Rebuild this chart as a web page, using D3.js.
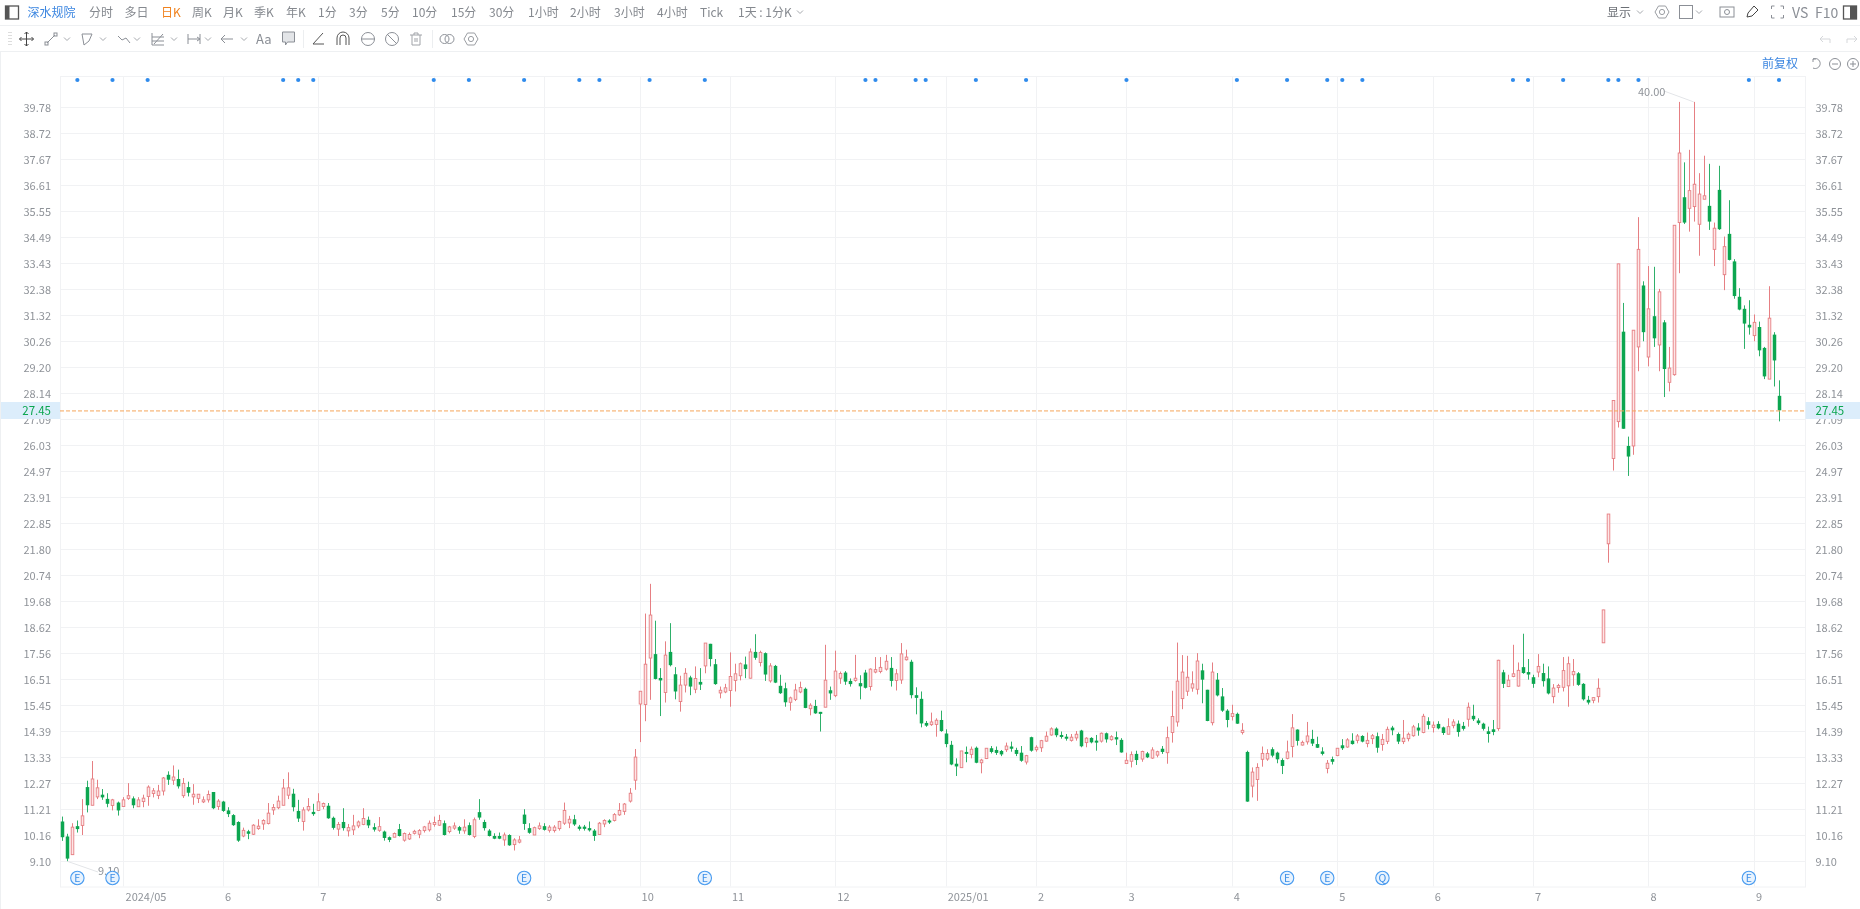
<!DOCTYPE html>
<html><head><meta charset="utf-8">
<style>html,body{margin:0;padding:0;background:#fff;overflow:hidden}text{font-family:"Noto Sans CJK SC","Noto Sans",sans-serif}svg{filter:blur(.3px)}</style>
<script src="https://cdn.jsdelivr.net/npm/d3@7"></script>
</head><body><svg id="c" width="1860" height="909"></svg>
<script>
const opens=[10.72,10.11,9.37,10.53,10.56,12.12,11.38,11.72,11.81,11.64,
11.37,11.49,11.33,11.66,11.66,11.32,11.53,11.74,11.86,11.78,
11.96,12.62,12.40,12.45,11.77,12.12,11.72,11.66,11.52,11.60,
11.92,11.33,11.53,11.17,10.98,10.70,10.13,10.32,10.20,10.43,
10.62,10.64,11.19,11.28,11.38,11.79,11.85,11.15,10.72,11.19,
11.11,11.17,11.33,11.36,10.87,10.41,10.70,10.34,10.38,10.54,
10.60,10.79,10.49,10.36,10.31,10.08,10.08,10.41,9.96,10.01,
10.24,10.20,10.35,10.38,10.60,10.57,10.65,10.31,10.45,10.49,
10.34,10.57,10.11,11.10,10.70,10.35,10.13,10.13,9.97,10.17,
9.78,9.88,11.00,10.45,10.17,10.43,10.53,10.36,10.35,10.43,
10.65,10.66,10.81,10.51,10.51,10.45,10.35,10.19,10.62,10.76,
10.76,10.99,11.13,11.55,12.40,15.50,15.48,17.37,17.53,16.56,
15.97,17.62,16.71,15.60,16.27,16.58,16.10,16.40,17.05,17.95,
17.12,15.95,15.99,16.05,16.46,16.65,17.11,16.55,17.62,17.19,
17.57,16.44,17.05,16.24,16.14,15.57,15.69,15.99,16.12,15.31,
15.42,15.18,15.37,16.06,15.84,16.55,16.78,16.44,16.46,16.35,
16.78,16.21,16.80,16.82,16.92,16.97,16.46,16.48,17.30,17.22,
15.86,15.71,14.73,14.66,14.67,14.85,14.30,13.84,13.07,12.91,
13.55,13.45,13.72,13.11,13.28,13.70,13.63,13.59,13.64,13.77,
13.63,13.52,13.14,14.15,13.64,13.72,13.99,14.24,14.50,14.24,
14.17,14.02,14.12,14.42,13.93,14.12,14.01,13.99,14.31,14.05,
14.15,14.04,13.08,13.17,13.47,13.26,13.49,13.30,13.42,13.68,
13.52,14.34,14.77,15.72,16.02,16.15,16.10,16.87,16.08,14.74,
16.49,15.81,15.23,14.99,15.10,14.34,13.55,12.16,12.43,13.25,
13.26,13.66,13.52,13.22,13.29,13.77,14.46,13.83,13.96,14.08,
13.87,13.57,12.88,13.26,13.40,13.82,13.75,14.01,14.02,14.20,
13.89,14.09,14.19,13.85,13.98,14.54,14.28,13.97,14.09,14.21,
14.54,14.34,14.80,14.55,14.69,14.55,14.27,14.62,14.70,14.61,
14.88,15.02,14.83,14.70,14.39,14.47,14.50,16.79,16.21,16.62,
16.23,17.00,16.80,16.59,16.80,16.76,16.54,15.80,16.19,16.18,
16.24,16.69,16.75,16.32,15.67,15.65,15.80,17.99,22.02,25.49,
26.99,30.65,26.00,26.00,30.03,32.53,29.62,31.28,30.11,31.03,
28.59,28.90,35.09,36.12,35.67,35.74,35.02,36.04,35.77,34.00,
36.42,32.97,34.63,33.51,32.07,31.58,30.93,30.49,30.84,29.99,
28.72,30.53,28.04];
const highs=[10.92,10.22,10.65,10.76,11.63,12.38,13.18,12.42,12.04,11.87,
11.64,11.53,11.71,12.28,11.74,11.71,11.81,12.19,12.08,12.21,
12.53,12.76,13.00,12.83,12.49,12.34,12.24,11.83,11.74,11.98,
11.92,11.63,11.56,11.30,11.02,10.73,10.47,10.38,10.61,10.81,
10.81,11.47,11.43,11.77,12.45,12.72,12.05,11.60,11.30,11.67,
11.44,11.87,11.49,11.47,10.92,10.70,11.26,10.62,10.99,10.76,
11.26,10.92,10.65,10.90,10.35,10.11,10.27,10.62,10.27,10.27,
10.38,10.41,10.54,10.76,10.92,10.99,10.76,10.54,10.68,10.54,
10.81,10.68,10.88,11.63,10.79,10.41,10.24,10.27,10.27,10.20,
10.04,10.13,11.22,10.65,10.51,10.68,10.65,10.57,10.57,10.75,
11.49,10.95,10.99,10.58,10.58,10.72,10.41,10.70,10.81,10.81,
11.06,11.47,11.47,12.08,13.67,16.02,19.18,20.39,18.89,16.96,
18.05,18.79,17.00,16.65,16.96,16.65,17.03,16.96,17.98,17.95,
17.33,16.21,16.32,17.60,17.14,17.19,17.43,17.76,18.34,17.67,
17.60,17.16,17.09,16.69,16.37,15.80,16.32,16.41,16.17,15.53,
15.67,15.18,17.91,16.21,17.67,16.82,16.84,16.54,17.50,16.67,
16.89,16.95,17.41,17.41,17.50,17.41,16.92,17.98,17.71,17.30,
16.18,16.01,14.81,15.15,14.92,15.23,14.47,14.00,13.29,13.59,
13.77,13.77,13.77,13.27,13.70,13.79,13.77,13.63,13.93,13.97,
13.72,13.79,13.43,14.17,13.82,14.04,14.38,14.55,14.55,14.38,
14.28,14.28,14.40,14.45,14.15,14.15,14.24,14.34,14.34,14.23,
14.38,14.11,13.52,13.57,13.60,13.60,13.55,13.74,13.60,13.79,
14.58,16.04,18.00,17.49,17.46,16.83,17.57,17.14,16.08,17.19,
16.76,16.15,15.29,15.47,15.15,14.72,13.60,12.92,13.09,13.77,
13.66,13.74,13.56,13.29,14.01,15.09,14.47,14.01,14.77,14.45,
14.17,13.74,13.22,13.36,13.71,14.07,14.11,14.31,14.28,14.23,
14.34,14.28,14.34,14.28,14.58,14.61,14.34,14.85,14.34,14.65,
14.72,15.10,14.96,14.79,14.80,14.58,14.92,14.88,14.83,14.77,
15.56,15.47,14.92,14.74,14.58,14.85,17.30,16.89,16.69,17.91,
17.19,18.36,17.33,16.69,17.53,17.14,17.03,16.31,16.32,17.41,
17.43,17.33,16.80,16.35,15.83,15.76,16.54,19.33,23.23,27.85,
33.41,31.82,26.38,30.71,35.31,32.70,33.32,33.29,32.39,31.12,
30.03,34.98,40.00,37.54,38.05,40.00,37.10,37.81,37.48,35.09,
37.40,34.52,36.00,33.60,32.42,31.72,31.93,31.35,31.06,30.03,
32.50,30.63,28.67];
const lows=[9.93,9.10,9.37,10.27,10.17,11.09,11.38,11.63,11.60,11.30,
11.17,10.96,11.33,11.60,11.26,11.32,11.30,11.36,11.70,11.63,
11.78,12.21,12.21,12.06,11.68,11.74,11.40,11.47,11.47,11.49,
11.22,11.19,11.11,10.90,10.54,9.89,10.08,10.00,10.17,10.38,
10.38,10.60,10.99,11.22,11.38,11.63,11.13,10.70,10.35,11.13,
10.95,11.17,11.22,10.83,10.39,10.13,10.35,10.11,10.17,10.45,
10.57,10.45,10.31,10.30,9.94,9.88,10.08,10.11,9.90,9.97,
10.19,10.04,10.27,10.31,10.51,10.54,10.15,10.24,10.38,10.22,
10.22,10.15,10.04,10.79,10.35,10.11,10.00,10.00,9.73,9.73,
9.54,9.83,10.38,10.22,10.17,10.38,10.35,10.27,10.27,10.35,
10.58,10.45,10.54,10.35,10.35,10.31,9.93,10.19,10.49,10.62,
10.72,10.95,10.99,11.49,12.01,13.95,14.80,15.67,16.50,15.01,
15.56,17.03,15.69,15.19,15.97,15.86,15.94,16.07,16.75,17.03,
16.28,15.73,15.94,15.39,16.01,16.46,16.55,16.54,17.30,17.03,
16.44,16.37,16.35,15.91,15.39,15.23,15.62,15.94,15.33,15.04,
15.10,14.38,15.37,15.67,15.78,16.32,16.28,16.21,16.41,15.69,
16.13,16.05,16.75,16.75,16.86,16.21,16.05,16.32,17.27,15.73,
15.08,14.55,14.57,14.61,14.17,14.37,13.74,13.01,12.57,12.91,
13.13,13.29,13.09,12.68,13.26,13.49,13.43,13.38,13.55,13.56,
13.38,13.15,13.04,13.56,13.56,13.55,13.97,14.21,14.15,14.09,
14.01,13.97,14.01,13.74,13.74,13.90,13.60,13.93,13.93,14.01,
13.83,13.52,13.06,12.92,13.02,13.15,13.30,13.27,13.33,13.47,
13.07,13.93,14.58,15.29,15.83,16.00,15.89,15.53,14.80,14.63,
15.81,15.18,14.55,14.83,14.69,14.26,11.52,11.70,11.56,12.95,
13.19,13.33,13.09,12.65,13.25,13.33,13.81,13.81,13.85,13.79,
13.71,13.41,12.68,13.04,13.38,13.63,13.72,13.85,13.90,13.94,
13.74,13.87,13.52,13.60,13.87,14.23,13.87,13.87,13.98,14.17,
14.21,14.31,14.47,14.34,14.47,14.24,14.27,14.51,14.17,14.42,
14.58,14.81,14.65,14.42,13.93,14.23,14.41,16.15,16.19,16.59,
16.21,16.73,16.49,16.16,16.59,16.21,15.89,15.53,15.96,16.01,
15.39,16.24,16.24,15.64,15.48,15.53,15.56,17.99,21.25,25.00,
26.75,26.70,24.78,25.64,29.04,30.26,29.24,30.03,29.04,27.99,
28.22,28.86,33.03,35.03,34.72,35.13,33.74,36.04,34.79,33.32,
34.79,32.34,33.55,31.99,31.52,29.95,30.53,30.26,29.65,28.72,
28.72,28.42,27.00];
const closes=[10.08,9.21,10.49,10.41,10.95,11.38,12.45,12.09,11.70,11.44,
11.60,11.17,11.60,11.77,11.38,11.60,11.67,12.12,11.97,11.96,
12.49,12.42,12.53,12.15,12.27,11.89,11.83,11.83,11.60,11.82,
11.26,11.55,11.15,11.02,10.57,9.94,10.36,10.22,10.57,10.53,
10.76,11.06,11.29,11.55,12.08,12.09,11.30,10.84,11.19,11.33,
11.02,11.52,11.45,10.85,10.46,10.60,10.45,10.47,10.54,10.70,
10.84,10.56,10.39,10.51,10.05,9.97,10.23,10.13,10.23,10.19,
10.32,10.35,10.50,10.65,10.68,10.76,10.17,10.50,10.54,10.35,
10.49,10.17,10.79,10.88,10.45,10.13,10.02,10.02,10.17,9.75,
9.97,9.97,10.62,10.26,10.47,10.54,10.38,10.49,10.49,10.72,
11.17,10.81,10.60,10.42,10.42,10.36,10.13,10.65,10.76,10.73,
11.00,11.17,11.43,11.87,13.34,16.02,17.12,19.12,16.52,16.46,
17.49,17.08,16.01,16.27,16.75,16.21,16.54,16.29,17.98,17.33,
16.31,16.06,16.16,16.62,16.73,17.14,16.92,17.62,17.38,17.60,
16.70,17.05,16.37,15.94,15.57,15.75,16.07,16.17,15.34,15.45,
15.12,15.11,16.47,15.93,16.84,16.74,16.41,16.31,16.55,16.22,
16.16,16.92,16.90,16.99,17.24,16.44,16.73,17.54,17.41,15.86,
15.75,14.71,14.62,14.77,14.84,14.40,13.87,13.04,12.96,13.59,
13.48,13.66,13.11,13.22,13.70,13.55,13.51,13.45,13.79,13.68,
13.47,13.19,13.40,13.60,13.74,14.01,14.19,14.49,14.23,14.17,
14.09,14.15,14.27,13.78,14.11,13.94,13.93,14.31,14.06,14.17,
14.06,13.53,13.21,13.44,13.22,13.57,13.33,13.63,13.56,13.55,
14.13,14.99,16.43,16.80,16.59,16.32,17.25,16.49,14.81,16.80,
15.85,15.23,14.85,15.11,14.70,14.43,11.53,12.73,12.92,13.49,
13.49,13.40,13.25,12.98,13.55,14.53,14.00,13.94,14.20,13.89,
13.72,13.47,13.09,13.15,13.70,13.70,14.04,13.87,14.20,13.97,
14.02,14.21,13.72,14.06,14.47,14.43,13.97,14.11,14.27,14.57,
14.42,15.00,14.65,14.64,14.51,14.32,14.58,14.77,14.36,14.49,
15.37,14.88,14.72,14.49,14.28,14.36,17.28,16.32,16.47,16.73,
16.87,16.76,16.70,16.32,17.03,16.43,15.93,16.15,16.25,16.86,
17.14,16.82,16.28,15.69,15.56,15.76,16.14,19.33,23.23,27.85,
33.41,26.70,25.57,30.71,34.00,30.63,31.58,30.38,32.27,29.13,
29.17,34.98,37.92,35.09,36.39,36.65,36.25,36.18,35.13,34.86,
34.82,34.11,33.57,32.10,31.55,30.98,30.82,31.03,29.89,28.83,
31.20,29.48,27.45];

const priceTicks=[9.10,10.16,11.21,12.27,13.33,14.39,15.45,16.51,17.56,18.62,19.68,20.74,21.80,22.85,23.91,24.97,26.03,27.09,28.14,29.20,30.26,31.32,32.38,33.43,34.49,35.55,36.61,37.67,38.72,39.78];
const monthLabels=["2024/05","6","7","8","9","10","11","12","2025/01","2","3","4","5","6","7","8","9"];
const monthStarts=[12,32,51,74,96,115,133,154,176,194,212,233,254,273,293,316,337];
const dotEvents=[3,10,17,44,47,50,74,81,92,103,107,117,128,160,162,170,172,182,192,212,234,244,252,255,259,289,292,299,308,310,314,336,342];
const badgeEvents=[3,10,92,128,244,252,263,336];
const badgeLetters=["E","E","E","E","E","E","Q","E"];
const lastPrice=27.45;
const periodTabs=["分时","多日","日K","周K","月K","季K","年K","1分","3分","5分","10分","15分","30分","1小时","2小时","3小时","4小时","Tick","1天 : 1分K"];
const periodTabX=[89,124.5,161,192,223,254,286,318,349,381,412,451,489,528,570,614,657,700,738];

const RED="#e67f83",REDFILL="#fee6e6",GREEN="#0ca650",AXIS="#8f9399",GRID="#f1f2f4";
const svg=d3.select("#c");
const L=60,R=1805,T=76,B=886.5;
const x=d3.scaleLinear().domain([0,342]).range([62.3,1779]);
const y=d3.scaleLinear().domain([9.10,39.78]).range([861.3,107.3]);
const crisp=v=>Math.round(v)+.5;

/* grid */
const g=svg.append("g");
g.selectAll("line.h").data(priceTicks).join("line").attr("x1",L).attr("x2",R).attr("y1",d=>crisp(y(d))).attr("y2",d=>crisp(y(d))).attr("stroke",GRID);
g.selectAll("line.v").data(monthStarts).join("line").attr("class","v").attr("x1",d=>crisp(x(d))).attr("x2",d=>crisp(x(d))).attr("y1",T).attr("y2",B).attr("stroke",GRID);
g.append("rect").attr("x",L+.5).attr("y",T+.5).attr("width",R-L).attr("height",B-T).attr("fill","none").attr("stroke",GRID);

/* axis labels */
const labs=svg.append("g").attr("font-size",11).attr("fill",AXIS);
labs.selectAll("text.l").data(priceTicks).join("text").attr("class","l").attr("x",51).attr("y",d=>y(d)+4.5).attr("text-anchor","end").text(d=>d.toFixed(2));
labs.selectAll("text.r").data(priceTicks).join("text").attr("class","r").attr("x",1815.5).attr("y",d=>y(d)+4.5).text(d=>d.toFixed(2));
labs.selectAll("text.m").data(monthStarts).join("text").attr("class","m").attr("x",(d,i)=>x(d)+(i==0?3:2)).attr("y",901).text((d,i)=>monthLabels[i]);

/* candles */
const idx=d3.range(opens.length);
const cg=svg.append("g");
cg.selectAll("line").data(idx).join("line")
 .attr("x1",i=>crisp(x(i))).attr("x2",i=>crisp(x(i)))
 .attr("y1",i=>y(highs[i])).attr("y2",i=>y(lows[i]))
 .attr("stroke",i=>closes[i]>=opens[i]?RED:"#2eb06a").attr("stroke-width",1);
cg.selectAll("rect").data(idx).join("rect")
 .attr("x",i=>crisp(x(i))-(closes[i]>=opens[i]?1.3:1.75)).attr("width",i=>closes[i]>=opens[i]?2.6:3.5)
 .attr("y",i=>y(Math.max(opens[i],closes[i])))
 .attr("height",i=>Math.max(2,Math.abs(y(opens[i])-y(closes[i]))))
 .attr("fill",i=>closes[i]>=opens[i]?REDFILL:GREEN)
 .attr("stroke",i=>closes[i]>=opens[i]?RED:"none").attr("stroke-width",.9);

/* annotations */
const ann=svg.append("g");
ann.append("line").attr("x1",x(1)).attr("y1",y(9.10)).attr("x2",98).attr("y2",872).attr("stroke","#e3e5e8");
ann.append("text").attr("x",98).attr("y",875).attr("font-size",11).attr("fill",AXIS).text(d3.min(lows).toFixed(2));
ann.append("line").attr("x1",1664).attr("y1",91).attr("x2",x(325)).attr("y2",y(40)).attr("stroke","#e3e5e8");
ann.append("text").attr("x",1638).attr("y",96).attr("font-size",11).attr("fill",AXIS).text(d3.max(highs).toFixed(2));

/* events */
const ev=svg.append("g");
ev.selectAll("circle").data(dotEvents).join("circle").attr("cx",d=>x(d)).attr("cy",80).attr("r",2.1).attr("fill","#2f8bec");
const bd=ev.selectAll("g").data(badgeEvents).join("g").attr("transform",d=>`translate(${x(d)},878)`);
bd.append("circle").attr("r",6.7).attr("fill","#e8f3fe").attr("stroke","#4a9cf0").attr("stroke-width",1.1);
bd.append("text").attr("text-anchor","middle").attr("y",4).attr("font-size",10.5).attr("fill","#3d8fe8").text((d,i)=>badgeLetters[i]);

/* last price */
const py=y(lastPrice)+0.6;
svg.append("line").attr("x1",L).attr("x2",R).attr("y1",py).attr("y2",py).attr("stroke","#f5a65b").attr("stroke-dasharray","4 2");
[[0,60],[1805.5,54.5]].forEach(([a,w])=>svg.append("rect").attr("x",a).attr("y",402).attr("width",w).attr("height",17).attr("fill","#dcedfb"));
[[51,"end"],[1815.5,"start"]].forEach(([a,t])=>svg.append("text").attr("x",a).attr("y",415).attr("text-anchor",t).attr("font-size",11.5).attr("fill","#0ca650").text(lastPrice.toFixed(2)));

/* toolbar chrome */
const ui=svg.append("g");
ui.append("line").attr("x1",0).attr("x2",1860).attr("y1",25.5).attr("y2",25.5).attr("stroke","#eef0f2");
ui.append("line").attr("x1",0).attr("x2",1860).attr("y1",51.5).attr("y2",51.5).attr("stroke","#eef0f2");
ui.append("line").attr("x1",.5).attr("x2",.5).attr("y1",52).attr("y2",909).attr("stroke","#eef0f2");
ui.append("text").attr("x",27.5).attr("y",17).attr("font-size",12).attr("fill","#3c86e0").text("深水规院");
ui.selectAll("text.tab").data(periodTabs).join("text").attr("class","tab").attr("x",(d,i)=>periodTabX[i]).attr("y",17).attr("font-size",12)
  .attr("fill",d=>d=="日K"?"#f0821e":"#85898f").text(d=>d);
ui.append("text").attr("x",1607).attr("y",17).attr("font-size",12).attr("fill","#6b6f75").text("显示");
ui.append("text").attr("x",1792).attr("y",17.5).attr("font-size",14).attr("fill","#8b8f96").text("VS");
ui.append("text").attr("x",1815).attr("y",17.5).attr("font-size",14).attr("fill","#8b8f96").text("F10");
ui.append("text").attr("x",1762).attr("y",68).attr("font-size",12).attr("fill","#3c86e0").text("前复权");

const ic=(cx,cy,fn,col="#8b8f96")=>{const s=ui.append("g").attr("transform",`translate(${cx},${cy})`).attr("fill","none").attr("stroke",col).attr("stroke-width",1);fn(s);return s;};
const chev=(cx,cy)=>ic(cx,cy,s=>s.append("path").attr("d","M-3,-1.5L0,1.5L3,-1.5"),"#a5a8ad");
const P=(s,d)=>s.append("path").attr("d",d);
const C=(s,r,cx=0,cy=0)=>s.append("circle").attr("r",r).attr("cx",cx).attr("cy",cy);
const panel=(cx,cy)=>ic(cx,cy,s=>{s.append("rect").attr("x",-6.5).attr("y",-6.5).attr("width",13).attr("height",13).attr("stroke","#555").attr("stroke-width",1.3);},"#555");
const gear=(cx,cy,col="#9a9da2")=>ic(cx,cy,s=>{P(s,"M-3.5,-6L3.5,-6L7,0L3.5,6L-3.5,6L-7,0Z");C(s,2.6);},col);
panel(12,12.5); ui.append("rect").attr("x",5.5).attr("y",6).attr("width",4).attr("height",13).attr("fill","#555");
chev(800,12);
/* drawing tools */
ui.append("line").attr("x1",10).attr("x2",10).attr("y1",32).attr("y2",46).attr("stroke","#ddd").attr("stroke-dasharray","1 2").attr("stroke-width",4);
ic(26.5,39,s=>P(s,"M0,-7V7M-7,0H7M-2,-5L0,-7L2,-5M-2,5L0,7L2,5M-5,-2L-7,0L-5,2M5,-2L7,0L5,2"),"#444");
ic(51,39,s=>{P(s,"M-4,4L4,-4");s.append("rect").attr("x",-6).attr("y",3).attr("width",3).attr("height",3);s.append("rect").attr("x",3).attr("y",-6).attr("width",3).attr("height",3);});chev(67,39);
ic(87,39,s=>P(s,"M-5,-5H5L2,2L-3,6Z"));chev(103,39);
ic(124,39,s=>P(s,"M-6,-3L-2,1L2,-1L6,4"));chev(137,39);
ic(158,39,s=>P(s,"M-6,-6V6H6M-6,-2H6M-6,2H6M-4,5L5,-5"));chev(174,39);
ic(194,39,s=>P(s,"M-6,-5V5M6,-5V5M-6,0H6M3,-2L6,0L3,2"));chev(208,39);
ic(227,39,s=>P(s,"M6,0H-6M-2,-4L-6,0L-2,4"));chev(244,39);
ui.append("text").attr("x",256).attr("y",44).attr("font-size",13).attr("fill","#8b8f96").text("Aa");
ic(288.5,38,s=>{P(s,"M-6,-6H6V4H-1L-3,7V4H-6Z").attr("fill","#e3e5e8");});
[303.5,432.5].forEach(a=>ui.append("line").attr("x1",a).attr("x2",a).attr("y1",30).attr("y2",48).attr("stroke","#eceef0"));
ic(318,39,s=>P(s,"M5,-6L-5,5H6"),"#555");
ic(343,39,s=>{P(s,"M-6,6V-1A6,6 0 0 1 6,-1V6M-3,6V-1A3,3 0 0 1 3,-1V6");},"#555");
ic(368,39,s=>{C(s,6.5);P(s,"M-7,0H7");});
ic(392,39,s=>{C(s,6.5);P(s,"M-5,-5L5,5");});
ic(416,39,s=>P(s,"M-6,-4H6M-4,-4V6H4V-4M-2,-4V-6H2V-4M-1,-1V3M1,-1V3"),"#a0a3a8");
ic(447,39,s=>{C(s,4.5,-2.5,0);C(s,4.5,2.5,0);});
gear(471,39);
/* right cluster */
chev(1640,12);gear(1662,12);
ic(1686,12,s=>s.append("rect").attr("x",-6.5).attr("y",-6.5).attr("width",13).attr("height",13));chev(1699,12);
ic(1727,12,s=>{s.append("rect").attr("x",-7).attr("y",-5).attr("width",14).attr("height",10);C(s,2.5);});
ic(1752,12,s=>P(s,"M-5,5L-4,1L2,-6L6,-2L0,4Z"),"#444");
ic(1777.5,12,s=>P(s,"M-6,-3V-6H-3M3,-6H6V-3M6,3V6H3M-3,6H-6V3"));
panel(1850,12.5); ui.append("rect").attr("x",1850).attr("y",6).attr("width",6.5).attr("height",13).attr("fill","#555");
ic(1825,39,s=>P(s,"M5,4V0H-5M-2,-3L-5,0L-2,3"),"#d5d7da");
ic(1852,39,s=>P(s,"M-5,4V0H5M2,-3L5,0L2,3"),"#d5d7da");
ic(1817,64,s=>P(s,"M-4,-5A5,5 0 1 1 -4,4M-4,-5V-2M-4,-5H-1"));
ic(1835,64,s=>{C(s,5.5);P(s,"M-3,0H3");});
ic(1853,64,s=>{C(s,5.5);P(s,"M-3,0H3M0,-3V3");});
</script></body></html>
